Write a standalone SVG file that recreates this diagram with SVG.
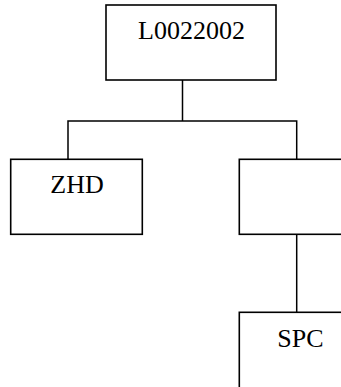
<svg xmlns="http://www.w3.org/2000/svg" width="341" height="387" viewBox="0 0 341 387">
<style>
.box{fill:#fff;stroke:#000;stroke-width:1.6}
.lbl{font-family:"Liberation Serif","Times New Roman",serif;font-size:26px;fill:#000}
.conn{fill:none;stroke:#000;stroke-width:1.5}
</style>
<rect width="341" height="387" fill="#fff"/>
<g id="connectors">
<path class="conn" d="M182.5 80 V121 M68 159.3 V121 H296.7 V159.3 M296.7 234.3 V312.3"/>
</g>
<g id="node-root">
<rect class="box" x="106" y="5" width="170" height="75"/>
<text class="lbl" x="191.5" y="39" text-anchor="middle">L0022002</text>
</g>
<g id="node-zhd">
<rect class="box" x="10.7" y="159.3" width="131.6" height="75"/>
<text class="lbl" x="77" y="192.7" text-anchor="middle">ZHD</text>
</g>
<g id="node-right">
<rect class="box" x="239.3" y="159.3" width="131.6" height="75"/>
</g>
<g id="node-spc">
<rect class="box" x="239.3" y="312.3" width="131.6" height="90"/>
<text class="lbl" x="277.3" y="346.7">SPC</text>
</g>
</svg>
